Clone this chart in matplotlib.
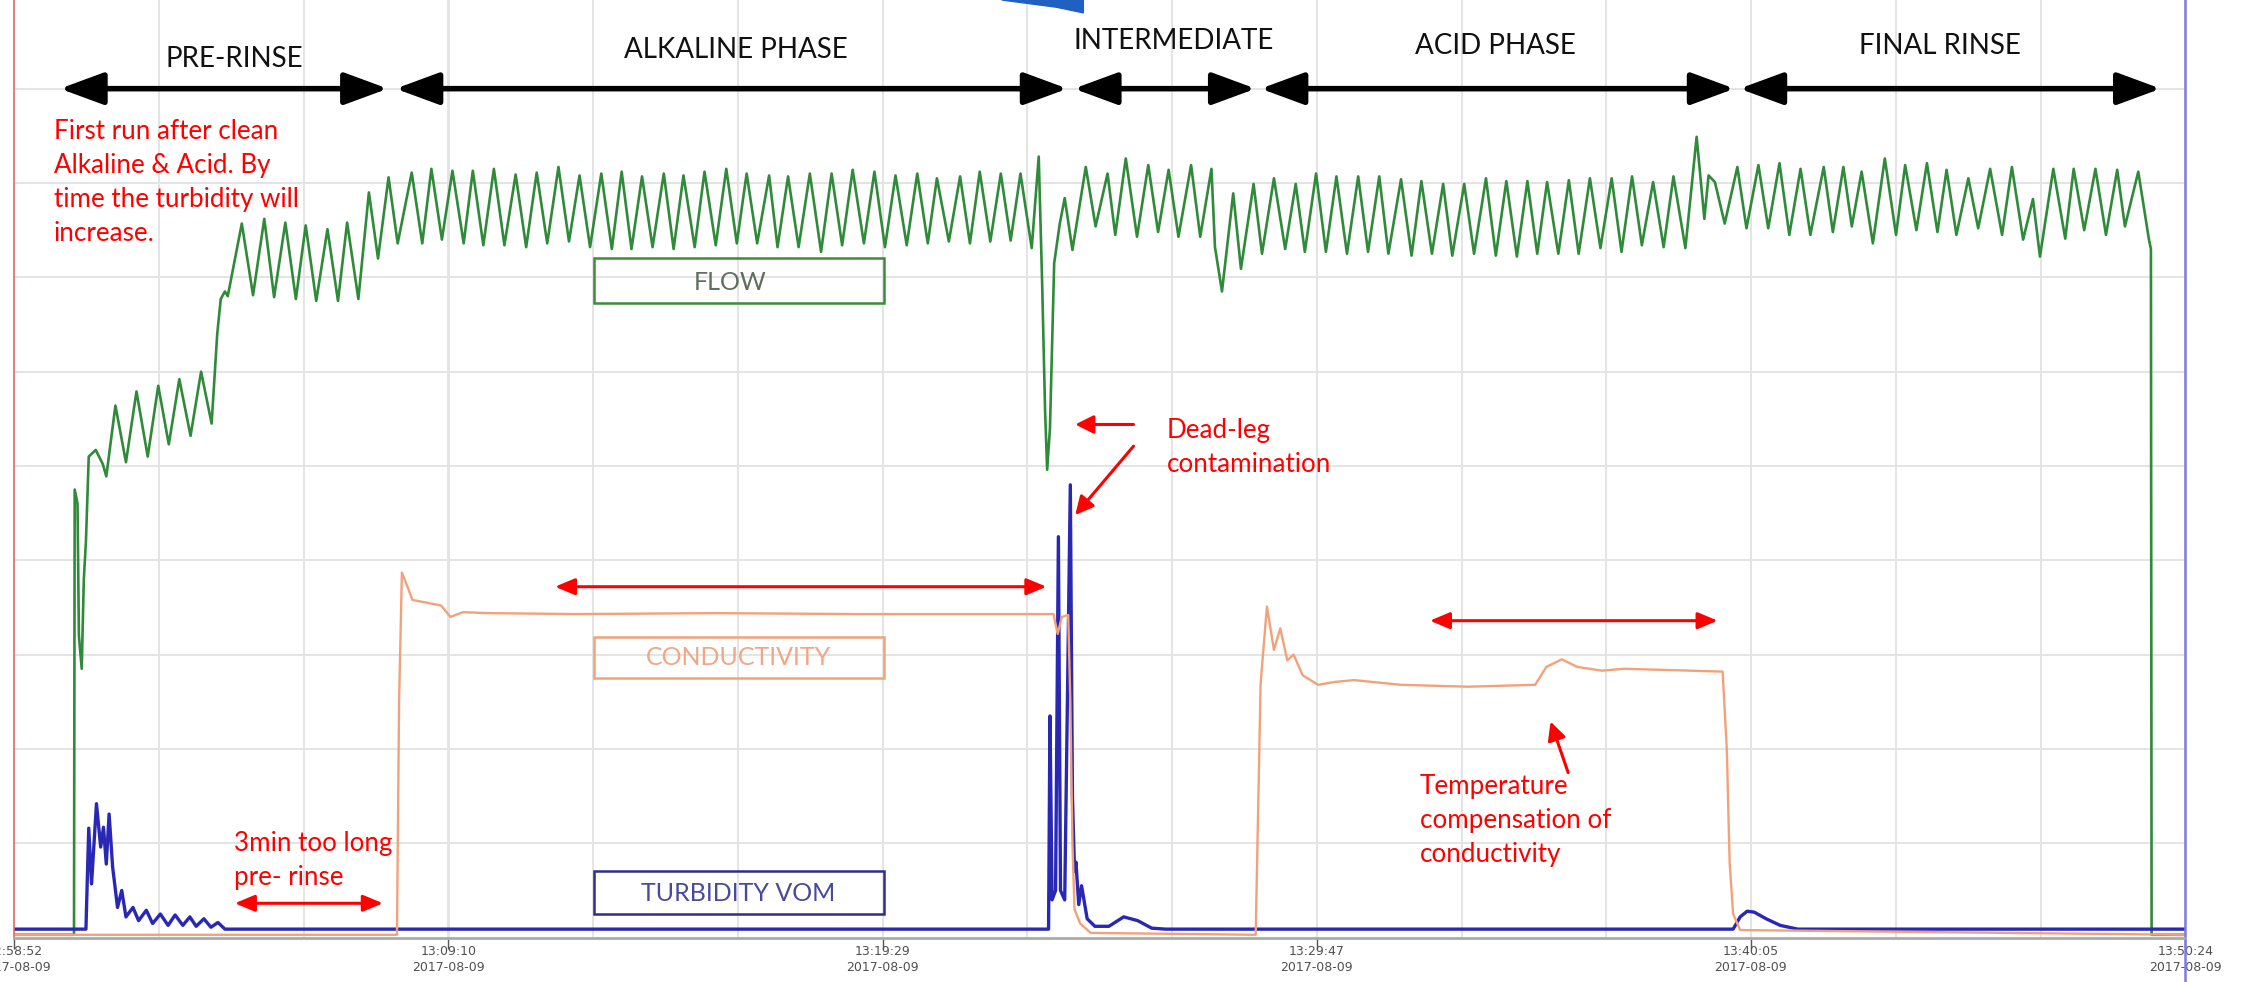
import matplotlib
matplotlib.use("Agg")
import numpy as np
import matplotlib.pyplot as plt
from matplotlib.patches import Rectangle, Polygon, FancyArrowPatch
from matplotlib.ticker import FixedLocator

plt.rcParams["font.family"] = ["Lato", "DejaVu Sans"]

# time axis: seconds after 12:58:52 on 2017-08-09
tick_secs = [0, 618, 1237, 1855, 2473, 3092]
tick_times = ["12:58:52", "13:09:10", "13:19:29", "13:29:47", "13:40:05", "13:50:24"]
tick_date = "2017-08-09"

# flow trend, turning points (seconds, grid units)
flow = [
    (0, 0.03), (85, 0.03), (86, 4.75), (90, 4.6), (92, 3.2), (96, 2.85), (99, 3.8), (102, 4.2),
    (106, 5.1), (116, 5.17), (126, 5.02), (131, 4.89),
    (144, 5.64), (159, 5.04), (174, 5.79), (190, 5.1), (205, 5.85), (220, 5.23), (235, 5.92),
    (251, 5.32), (266, 6.0), (281, 5.45), (289, 6.4), (294, 6.77), (300, 6.85), (304, 6.8),
    (324, 7.57), (340, 6.81), (356, 7.62), (370, 6.79), (386, 7.58), (401, 6.77), (415, 7.55),
    (430, 6.75), (446, 7.51), (461, 6.75), (474, 7.58), (490, 6.77),
    (505, 7.9), (518, 7.2), (533, 8.06), (546, 7.36), (566, 8.11), (581, 7.36), (594, 8.15),
    (609, 7.4), (624, 8.13), (640, 7.36), (653, 8.13), (668, 7.34), (683, 8.15), (698, 7.34),
    (714, 8.09), (729, 7.32), (744, 8.11), (759, 7.36), (775, 8.17), (790, 7.38),
    (805, 8.08), (820, 7.32), (836, 8.10), (851, 7.30), (865, 8.12), (879, 7.30), (894, 8.07),
    (909, 7.32), (925, 8.10), (939, 7.30), (953, 8.08), (969, 7.32), (983, 8.12), (999, 7.34),
    (1014, 8.15), (1029, 7.36), (1043, 8.10), (1058, 7.36), (1075, 8.08), (1087, 7.32),
    (1102, 8.07), (1117, 7.32), (1133, 8.10), (1149, 7.27), (1164, 8.10), (1179, 7.34),
    (1194, 8.14), (1210, 7.36), (1225, 8.12), (1240, 7.32), (1255, 8.08), (1271, 7.34),
    (1286, 8.10), (1301, 7.36), (1314, 8.05), (1331, 7.38), (1347, 8.07), (1361, 7.36),
    (1375, 8.12), (1390, 7.38), (1405, 8.10), (1419, 7.39), (1433, 8.10), (1449, 7.31),
    (1459, 8.28), (1464, 6.9), (1468, 5.6), (1471, 4.96), (1475, 5.4), (1481, 7.15),
    (1489, 7.57), (1496, 7.84), (1507, 7.29), (1526, 8.17), (1540, 7.54), (1557, 8.10),
    (1568, 7.45), (1583, 8.26), (1599, 7.43), (1615, 8.19), (1629, 7.48), (1644, 8.14),
    (1658, 7.43), (1676, 8.19), (1689, 7.43), (1705, 8.15), (1710, 7.32), (1720, 6.85),
    (1736, 7.89), (1747, 7.09), (1765, 7.99), (1777, 7.25), (1794, 8.05), (1810, 7.30),
    (1825, 7.99), (1838, 7.27), (1854, 8.10), (1868, 7.27), (1883, 8.07), (1898, 7.25),
    (1914, 8.07), (1928, 7.27), (1944, 8.07), (1957, 7.25), (1975, 8.04), (1990, 7.23),
    (2004, 8.02), (2019, 7.25), (2035, 7.99), (2048, 7.23), (2065, 7.99), (2079, 7.25),
    (2096, 8.05), (2110, 7.23), (2125, 8.02), (2140, 7.22), (2155, 8.02), (2169, 7.25),
    (2183, 8.01), (2199, 7.25), (2214, 8.03), (2228, 7.25), (2244, 8.05), (2259, 7.31),
    (2275, 8.05), (2289, 7.27), (2304, 8.07), (2318, 7.34), (2334, 8.01), (2349, 7.32),
    (2363, 8.07), (2380, 7.31), (2396, 8.49), (2407, 7.62), (2413, 8.08), (2422, 8.01),
    (2436, 7.57), (2454, 8.17), (2467, 7.52), (2484, 8.19), (2498, 7.52), (2514, 8.21),
    (2528, 7.45), (2544, 8.15), (2558, 7.45), (2577, 8.17), (2590, 7.48), (2605, 8.17),
    (2617, 7.54), (2631, 8.12), (2647, 7.36), (2664, 8.26), (2680, 7.45), (2693, 8.19),
    (2709, 7.50), (2724, 8.21), (2739, 7.48), (2752, 8.14), (2766, 7.45), (2783, 8.05),
    (2797, 7.52), (2814, 8.15), (2831, 7.45), (2845, 8.17), (2861, 7.40), (2875, 7.83),
    (2885, 7.22), (2904, 8.15), (2921, 7.41), (2933, 8.15), (2948, 7.50), (2964, 8.15),
    (2979, 7.45), (2995, 8.14), (3006, 7.54), (3025, 8.12), (3040, 7.41), (3043, 7.3),
    (3044, 0.03), (3092, 0.03),
]

conductivity = [
    (0, 0.03), (545, 0.03), (548, 2.5), (552, 3.87), (560, 3.72), (567, 3.58), (588, 3.55),
    (608, 3.52), (621, 3.40), (639, 3.45), (676, 3.44), (800, 3.43), (1000, 3.44),
    (1200, 3.43), (1400, 3.43), (1480, 3.43), (1486, 3.22), (1492, 3.40), (1501, 3.42),
    (1504, 2.5), (1507, 1.0), (1510, 0.3), (1518, 0.15), (1533, 0.05), (1768, 0.03),
    (1775, 2.69), (1784, 3.51), (1794, 3.05), (1803, 3.28), (1813, 2.94), (1822, 3.0),
    (1835, 2.78), (1857, 2.68), (1880, 2.71), (1908, 2.73), (1975, 2.68), (2070, 2.66),
    (2166, 2.68), (2182, 2.87), (2204, 2.95), (2226, 2.87), (2261, 2.83), (2293, 2.85),
    (2388, 2.83), (2433, 2.82), (2439, 2.0), (2443, 0.8), (2448, 0.25), (2458, 0.08),
    (3092, 0.03),
]

turbidity = [
    (0, 0.09), (102, 0.09), (106, 1.16), (110, 0.57), (117, 1.42), (123, 0.96), (127, 1.17),
    (131, 0.78), (135, 1.31), (140, 0.75), (147, 0.32), (153, 0.50), (159, 0.22), (169, 0.32),
    (177, 0.18), (188, 0.29), (197, 0.15), (208, 0.25), (219, 0.13), (229, 0.24), (240, 0.13),
    (250, 0.22), (259, 0.12), (270, 0.20), (280, 0.11), (290, 0.16), (300, 0.09),
    (1473, 0.09), (1475, 2.35), (1478, 0.4), (1483, 0.5), (1487, 4.25), (1490, 0.5),
    (1496, 0.4), (1504, 4.80), (1507, 1.5), (1510, 0.7), (1512, 0.8), (1516, 0.35),
    (1520, 0.55), (1528, 0.2), (1539, 0.12), (1559, 0.12), (1580, 0.22), (1600, 0.18),
    (1620, 0.1), (1640, 0.09), (2448, 0.09), (2458, 0.22), (2468, 0.28), (2478, 0.27),
    (2495, 0.2), (2515, 0.13), (2540, 0.09), (3092, 0.09),
]

phase_names = ["PRE-RINSE", "ALKALINE PHASE", "INTERMEDIATE", "ACID PHASE", "FINAL RINSE"]
phase_spans = [(65, 532), (543, 1500), (1509, 1768), (1775, 2450), (2457, 3057)]
phase_label_x = [314, 1027, 1651, 2110, 2743]
phase_label_y = [9.23, 9.32, 9.42, 9.37, 9.37]

GREEN = "#2f8a3a"
ORANGE = "#f2a27a"
BLUE = "#2828b4"
RED = "#ff0000"

fig = plt.figure(figsize=(22.44, 9.82), dpi=100)
ax = fig.add_axes([0.006378, 0.04519, 0.96747, 0.95481])
ax.set_xlim(0, 3092)
ax.set_ylim(0, 9.94)

# grid
ax.xaxis.set_major_locator(FixedLocator(tick_secs))
ax.xaxis.set_minor_locator(FixedLocator(np.linspace(0, 3092, 16)))
ax.yaxis.set_major_locator(FixedLocator(range(1, 10)))
ax.grid(which="both", axis="both", color="#e4e4e4", lw=1.4)
ax.set_axisbelow(True)
ax.tick_params(axis="y", length=0, labelleft=False)
ax.tick_params(axis="x", which="minor", length=0)
ax.tick_params(axis="x", which="major", length=8, width=1, color="#555555", pad=-3)
ax.set_xticklabels([f"{t}\n{tick_date}" for t in tick_times], fontsize=9,
                   color="#505050", linespacing=1.3, family="DejaVu Sans")

ax.spines["top"].set_visible(False)
ax.spines["left"].set_color("#e46a6a")
ax.spines["left"].set_linewidth(1.2)
ax.spines["right"].set_color("#7b7be0")
ax.spines["right"].set_linewidth(1.8)
ax.spines["bottom"].set_color("#aaaaaa")
ax.spines["bottom"].set_linewidth(2)
ax.plot([1, 1], [-0.0473, 0], transform=ax.transAxes, color="#7b7be0", lw=1.8,
        clip_on=False)

# trends
ft, fv = zip(*flow)
ax.plot(ft, fv, color=GREEN, lw=1.9)
tt, tv = zip(*turbidity)
ax.plot(tt, tv, color=BLUE, lw=2.4)
ct, cv = zip(*conductivity)
ax.plot(ct, cv, color=ORANGE, lw=1.7)

# phase arrows and labels
for name, (t0, t1), lx, ly in zip(phase_names, phase_spans, phase_label_x, phase_label_y):
    ax.add_patch(FancyArrowPatch((t0, 9.0), (t1, 9.0),
                                 arrowstyle="<|-|>,head_length=1.9,head_width=0.7",
                                 mutation_scale=14, lw=4.0, color="black",
                                 shrinkA=0, shrinkB=0))
    ax.text(lx, ly, name, ha="center", va="baseline", fontsize=20, color="#111111")

# series label boxes
boxes = [
    ("FLOW", 6.73, 7.20, 1020, 6.95, "#3c8c3c", "#5f6f5f"),
    ("CONDUCTIVITY", 2.75, 3.19, 1031, 2.97, ORANGE, "#f2a684"),
    ("TURBIDITY VOM", 0.247, 0.707, 1031, 0.466, "#2e2e8a", "#4a4a9a"),
]
for label, y0, y1, tx, ty, ec, tc in boxes:
    ax.add_patch(Rectangle((825.5, y0), 412.5, y1 - y0, fill=False, ec=ec, lw=1.8))
    ax.text(tx, ty, label, ha="center", va="center", fontsize=18, color=tc)

# red annotations (y = baseline of the last line)
ax.text(56, 7.38, "First run after clean\nAlkaline & Acid. By\ntime the turbidity will\nincrease.",
        color=RED, fontsize=18.7, va="baseline", ha="left", linespacing=1.45)
ax.text(313, 0.56, "3min too long\npre- rinse", color=RED, fontsize=18.7,
        va="baseline", ha="left", linespacing=1.45)
ax.text(1641, 4.94, "Dead-leg\ncontamination", color=RED, fontsize=18.7,
        va="baseline", ha="left", linespacing=1.45)
ax.text(2002, 0.80, "Temperature\ncompensation of\nconductivity", color=RED, fontsize=18.7,
        va="baseline", ha="left", linespacing=1.45)

double_arrows = [((314, 0.364), (525, 0.364)),
                 ((770, 3.72), (1470, 3.72)),
                 ((2016, 3.36), (2426, 3.36))]
for p0, p1 in double_arrows:
    ax.add_patch(FancyArrowPatch(p0, p1, arrowstyle="<|-|>,head_length=1.2,head_width=0.5",
                                 mutation_scale=10, lw=2.2, color=RED, shrinkA=0, shrinkB=0))

single_arrows = [((1594, 5.44), (1511, 5.44)),
                 ((1594, 5.21), (1511, 4.48)),
                 ((2213, 1.75), (2188, 2.29))]
for p0, p1 in single_arrows:
    ax.add_patch(FancyArrowPatch(p0, p1, arrowstyle="-|>,head_length=1.1,head_width=0.55",
                                 mutation_scale=10, lw=2.2, color=RED, shrinkA=0, shrinkB=0))

# piece of a logo cut off at the top edge
fig.patches.append(Polygon([(700 / 1568, 1.0), (757 / 1568, 1.0), (757 / 1568, 1 - 9 / 686),
                            (738 / 1568, 1 - 5 / 686), (715 / 1568, 1 - 2 / 686)],
                           closed=True, transform=fig.transFigure, color="#2060c0"))

fig.savefig("out.png", dpi=100)
